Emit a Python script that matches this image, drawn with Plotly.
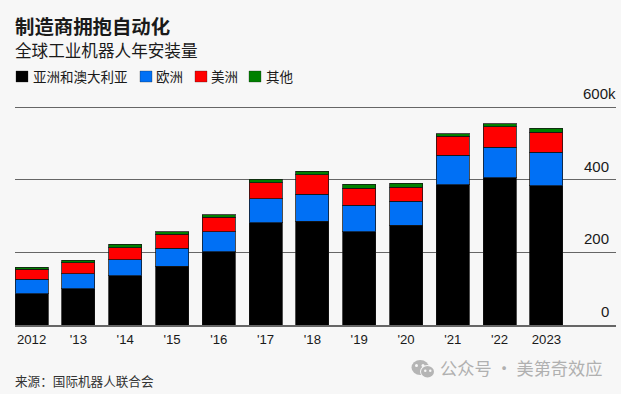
import plotly.graph_objects as go

categories = ["2012", "'13", "'14", "'15", "'16", "'17", "'18", "'19", "'20", "'21", "'22", "2023"]
asia = [86, 100, 135, 162, 201, 281, 285, 257, 275, 386, 405, 383]
europe = [40, 41, 45, 49, 55, 66, 75, 73, 65, 81, 84, 92]
americas = [27, 31, 33, 39, 40, 45, 54, 47, 39, 52, 57, 55]
other = [6, 6, 9, 6, 8, 9, 9, 11, 11, 8, 8, 12]
series_names = ["亚洲和澳大利亚", "欧洲", "美洲", "其他"]
series_colors = ["#000000", "#0070f5", "#ff0000", "#008000"]
tick_values = [0, 200, 400, 600]
tick_labels = ["0", "200", "400", "600k"]

W, H = 621, 394
L, R, T, B = 15, 616, 105, 325
LAT = "Liberation Sans, Noto Sans CJK SC"
CJK = "Noto Sans CJK SC, Liberation Sans"
BG = "#f7f7f7"


def px(x):
    return (x - L) / (R - L)


def py(y):
    return (B - y) / (B - T)


fig = go.Figure()
for name, vals, col in zip(series_names, [asia, europe, americas, other], series_colors):
    fig.add_bar(x=categories, y=vals, name=name, marker_color=col,
                marker_line=dict(color="rgba(20,20,20,0.75)", width=1), showlegend=False)

annotations = []


def text(x, y, s, size, color="#1a1a1a", family=CJK, anchor="left"):
    annotations.append(dict(x=px(x), y=py(y), xref="paper", yref="paper", text=s, showarrow=False,
                            xanchor=anchor, yanchor="middle", borderpad=0, borderwidth=0,
                            font=dict(size=size, color=color, family=family)))


text(14.5, 25.5, "<b>制造商拥抱自动化</b>", 19.4)
text(14.5, 50.5, "全球工业机器人年安装量", 16.6)
text(14.5, 380.5, "来源：国际机器人联合会", 12.6, "#333333")
text(439.5, 367.5, "公众号 · 美第奇效应", 17.2, "#b0b0b0")

shapes = []
legend_swatch_x = [16, 140, 195, 249]
legend_text_x = [32.5, 155.5, 210.5, 265.5]
for sx, tx, name, col in zip(legend_swatch_x, legend_text_x, series_names, series_colors):
    shapes.append(dict(type="rect", xref="paper", yref="paper", x0=px(sx), x1=px(sx + 12), y0=py(71), y1=py(82),
                       fillcolor=col, line=dict(color="rgba(30,30,30,0.6)", width=0.5)))
    text(tx, 75.5, name, 13.5)

# value labels sit above their gridlines, on the axis's own scale
for v, lab in zip(tick_values, tick_labels):
    is_top = lab.endswith("k")
    annotations.append(dict(x=px(581.5 if is_top else 609.5), xref="paper", y=v, yref="y", text=lab, showarrow=False,
                            xanchor="left" if is_top else "right", yanchor="bottom", yshift=4, borderpad=0,
                            font=dict(size=15, color="#1a1a1a", family=LAT)))


def ell(x0, x1, y0, y1, col):
    shapes.append(dict(type="circle", xref="paper", yref="paper", x0=px(x0), x1=px(x1), y0=py(y0), y1=py(y1),
                       fillcolor=col, line=dict(width=0)))


# WeChat watermark glyph
ell(411.5, 429, 360, 375, "#b5b5b5")
ell(415, 418, 364, 367, BG)
ell(421.5, 424.5, 364, 367, BG)
ell(420, 435, 365, 378, BG)
ell(421, 434, 366, 377.5, "#b5b5b5")
ell(424, 426.5, 369.5, 372, BG)
ell(429, 431.5, 369.5, 372, BG)

fig.update_layout(
    width=W, height=H, autosize=False, barmode="stack", bargap=0.295,
    margin=dict(l=L, r=W - R, t=T, b=H - B, pad=0),
    paper_bgcolor=BG, plot_bgcolor=BG, annotations=annotations, shapes=shapes,
    font=dict(family=LAT, size=13.5, color="#1a1a1a"),
    xaxis=dict(type="category", categoryorder="array", categoryarray=categories,
               range=[-0.355, 12.487], tickmode="array", tickvals=categories, ticktext=categories,
               ticks="", showgrid=False, showline=True, linecolor="#666666", linewidth=1.5,
               tickfont=dict(size=13.2, color="#1a1a1a", family=LAT), ticklabelstandoff=1, zeroline=False),
    yaxis=dict(range=[0, 600 * 220 / 218], tickmode="array", tickvals=tick_values, showticklabels=False, ticks="",
               showgrid=True, gridcolor="#666666", gridwidth=1, zeroline=False, showline=False),
)
fig.write_html("out.html", config=dict(displayModeBar=False),
               post_script="document.body.style.margin='0';document.body.style.background='" + BG + "';")
